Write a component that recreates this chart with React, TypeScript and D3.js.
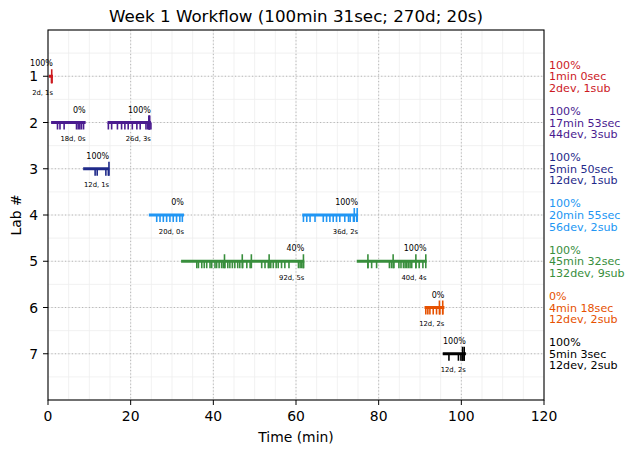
import { useEffect, useRef } from 'react'
import * as d3 from 'd3'

const W = 634
const H = 453
const M = { left: 48, right: 90, top: 30, bottom: 53 }

const labs = [1, 2, 3, 4, 5, 6, 7]
const labColors = ['#cc1a1f', '#4a1b8f', '#1f2a8a', '#2196f3', '#388e3c', '#e65100', '#000000']
const labPct = ['100%', '100%', '100%', '100%', '100%', '0%', '100%']
const labDuration = ['1min 0sec', '17min 53sec', '5min 50sec', '20min 55sec', '45min 32sec', '4min 18sec', '5min 3sec']
const labDevSub = ['2dev, 1sub', '44dev, 3sub', '12dev, 1sub', '56dev, 2sub', '132dev, 9sub', '12dev, 2sub', '12dev, 2sub']

// one entry per session
const sessionLab = [1, 2, 2, 3, 4, 4, 5, 5, 6, 7]
const sessionStart = [0.2, 0.75, 14.4, 8.5, 24.4, 61.5, 32.2, 74.7, 91.1, 95.5]
const sessionEnd = [1.2, 9.1, 24.9, 14.8, 32.9, 75.0, 62.0, 91.6, 95.9, 101.1]
const sessionPct = ['100%', '0%', '100%', '100%', '0%', '100%', '40%', '100%', '0%', '100%']
const sessionDevs = [2, 18, 26, 12, 20, 36, 92, 40, 12, 12]
const sessionSubs = [1, 0, 3, 1, 0, 2, 5, 4, 2, 2]
const devTimes = [
  [0.85, 0.95],
  [2.3, 2.9, 3.9, 6.9, 7.3, 7.7, 8.1, 8.6],
  [14.6, 15.4, 16.8, 17.8, 18.6, 19.4, 20.4, 21.5, 22.3, 23.7, 24.1, 24.5, 24.9],
  [11.4, 11.9, 14.0, 14.6],
  [26.3, 27.1, 27.9, 28.7, 29.5, 30.3, 31.1, 31.9, 32.5],
  [61.8, 62.6, 63.4, 64.6, 66.6, 67.4, 68.2, 69.0, 69.8, 70.6, 71.8, 72.7, 73.1, 73.9, 74.7],
  [36.0, 36.4, 37.2, 37.8, 38.4, 39.2, 39.6, 40.4, 40.8, 41.4, 42.0, 42.4, 42.8, 43.5, 44.0, 44.6, 45.2, 45.9,
    46.4, 47.1, 48.1, 48.9, 51.7, 52.5, 53.3, 53.9, 54.5, 55.2, 55.7, 56.5, 57.3, 58.3, 60.6, 61.0, 61.4, 61.8],
  [77.4, 78.3, 79.5, 82.6, 83.1, 83.7, 84.9, 85.4, 86.0, 86.4, 86.8, 87.2, 87.6, 88.0, 89.0, 89.8, 90.7],
  [91.4, 91.9, 92.4, 93.2, 94.0, 94.8, 95.5],
  [97.0, 99.3, 99.9, 100.3, 100.7],
]
const subTimes = [
  [0.9],
  [],
  [24.4, 24.5, 24.6],
  [14.75],
  [],
  [74.1, 74.8],
  [42.7, 47.0, 49.2, 53.5, 61.8],
  [77.4, 83.5, 89.0, 91.4],
  [94.7, 95.5],
  [100.3, 100.7],
]

const xTicks = [0, 20, 40, 60, 80, 100, 120]

export default function App() {
  const ref = useRef<SVGSVGElement>(null)

  useEffect(() => {
    const svg = d3.select(ref.current)
    svg.selectAll('*').remove()
    const font = 'DejaVu Sans, sans-serif'

    const x = d3.scaleLinear().domain([0, 120]).range([M.left, W - M.right])
    const y = d3.scaleLinear().domain([0, 8]).range([M.top, H - M.bottom])
    const [x0, x1] = x.range()
    const [y0, y1] = y.range()

    svg.append('rect').attr('width', W).attr('height', H).attr('fill', '#fff')

    // minor grid
    const g = svg.append('g')
    g.selectAll('.mx').data(d3.range(0, 121, 5)).join('line')
      .attr('x1', d => x(d)).attr('x2', d => x(d)).attr('y1', y0).attr('y2', y1)
      .attr('stroke', '#ededed').attr('stroke-width', 0.8)
    g.selectAll('.my').data(d3.range(0, 8.01, 0.5)).join('line')
      .attr('y1', d => y(d)).attr('y2', d => y(d)).attr('x1', x0).attr('x2', x1)
      .attr('stroke', '#ededed').attr('stroke-width', 0.8)
    // major grid
    svg.append('g').selectAll('line').data(xTicks.slice(1, -1)).join('line')
      .attr('x1', d => x(d)).attr('x2', d => x(d)).attr('y1', y0).attr('y2', y1)
      .attr('stroke', '#b0b0b0').attr('stroke-width', 0.9).attr('stroke-dasharray', '1.2,2.2')
    svg.append('g').selectAll('line').data(labs).join('line')
      .attr('y1', d => y(d)).attr('y2', d => y(d)).attr('x1', x0).attr('x2', x1)
      .attr('stroke', '#b0b0b0').attr('stroke-width', 0.9).attr('stroke-dasharray', '1.2,2.2')

    // sessions
    sessionLab.forEach((lab, i) => {
      const c = labColors[lab - 1]
      const yy = y(lab)
      const sg = svg.append('g')
      sg.append('line')
        .attr('x1', x(sessionStart[i])).attr('x2', x(sessionEnd[i]))
        .attr('y1', yy).attr('y2', yy)
        .attr('stroke', c).attr('stroke-width', 3)
      sg.selectAll('.dev').data(devTimes[i]).join('line')
        .attr('x1', d => x(d)).attr('x2', d => x(d)).attr('y1', yy).attr('y2', yy + 7)
        .attr('stroke', c).attr('stroke-width', 1.6)
      sg.selectAll('.sub').data(subTimes[i]).join('line')
        .attr('x1', d => x(d)).attr('x2', d => x(d)).attr('y1', yy - 7).attr('y2', yy + 7)
        .attr('stroke', c).attr('stroke-width', 1.6)
      sg.append('text')
        .attr('x', x(sessionEnd[i])).attr('y', yy - 10)
        .attr('text-anchor', 'end').attr('font-size', 8).attr('font-family', font).attr('fill', '#000')
        .text(sessionPct[i])
      sg.append('text')
        .attr('x', x(sessionEnd[i])).attr('y', yy + 18.5)
        .attr('text-anchor', 'end').attr('font-size', 6.8).attr('font-family', font).attr('fill', '#000')
        .text(`${sessionDevs[i]}d, ${sessionSubs[i]}s`)
    })

    // frame
    svg.append('rect')
      .attr('x', x0).attr('y', y0).attr('width', x1 - x0).attr('height', y1 - y0)
      .attr('fill', 'none').attr('stroke', '#000').attr('stroke-width', 1.1)

    // x axis
    const xa = svg.append('g')
    xa.selectAll('line').data(xTicks).join('line')
      .attr('x1', d => x(d)).attr('x2', d => x(d)).attr('y1', y1).attr('y2', y1 + 5)
      .attr('stroke', '#000').attr('stroke-width', 1)
    xa.selectAll('text').data(xTicks).join('text')
      .attr('x', d => x(d)).attr('y', y1 + 21)
      .attr('text-anchor', 'middle').attr('font-size', 13.9).attr('font-family', font)
      .text(d => String(d))
    svg.append('text')
      .attr('x', (x0 + x1) / 2).attr('y', y1 + 42)
      .attr('text-anchor', 'middle').attr('font-size', 13.9).attr('font-family', font)
      .text('Time (min)')

    // y axis
    const ya = svg.append('g')
    ya.selectAll('line').data(labs).join('line')
      .attr('x1', x0 - 5).attr('x2', x0).attr('y1', d => y(d)).attr('y2', d => y(d))
      .attr('stroke', '#000').attr('stroke-width', 1)
    ya.selectAll('text').data(labs).join('text')
      .attr('x', x0 - 10).attr('y', d => y(d) + 5)
      .attr('text-anchor', 'end').attr('font-size', 13.9).attr('font-family', font)
      .text(d => String(d))
    svg.append('text')
      .attr('transform', `translate(21,${(y0 + y1) / 2}) rotate(-90)`)
      .attr('text-anchor', 'middle').attr('font-size', 13.9).attr('font-family', font)
      .text('Lab #')

    // right side summaries
    labs.forEach((lab, i) => {
      const yy = y(lab)
      const t = svg.append('text')
        .attr('font-size', 11.1).attr('font-family', font).attr('fill', labColors[i])
      ;[labPct[i], labDuration[i], labDevSub[i]].forEach((s, k) => {
        t.append('tspan').attr('x', x1 + 5).attr('y', yy + (k - 1) * 11.7 + 4).text(s)
      })
    })

    // title
    svg.append('text')
      .attr('x', (x0 + x1) / 2).attr('y', 22)
      .attr('text-anchor', 'middle').attr('font-size', 16.7).attr('font-family', font)
      .text('Week 1 Workflow (100min 31sec; 270d; 20s)')
  }, [])

  return (
    <svg ref={ref} width={W} height={H}
      style={{ display: 'block', position: 'absolute', left: 0, top: 0 }} />
  )
}
